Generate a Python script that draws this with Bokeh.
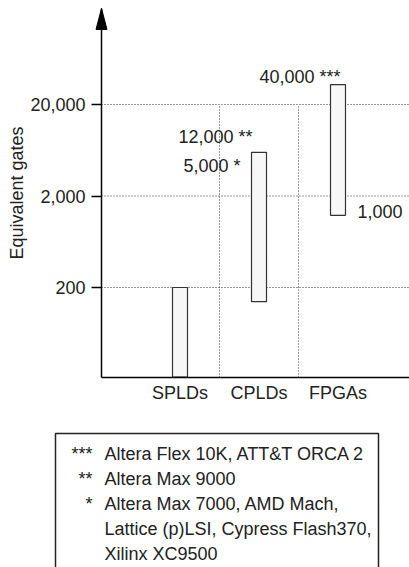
import math
from bokeh.plotting import figure
from bokeh.models import Range1d, FixedTicker, NumeralTickFormatter, ColumnDataSource
from bokeh.layouts import column
from bokeh.embed import file_html
from bokeh.resources import INLINE
from bokeh.core.properties import value

# ---------------- data ----------------
categories = ["SPLDs", "CPLDs", "FPGAs"]
gates_low = [21, 140, 1230]
gates_high = [200, 6000, 33000]
y_ticks = [200, 2000, 20000]

annot_text = ["40,000 ***", "12,000 **", "5,000 *", "1,000"]
annot_bar = [2, 1, 1, 2]            # index of the bar each note belongs to
annot_end = ["high", "high", "high", "low"]

legend_marks = ["***", "**", "*"]
legend_notes = [
    "Altera Flex 10K, ATT&T ORCA 2",
    "Altera Max 9000",
    "Altera Max 7000, AMD Mach,\nLattice (p)LSI, Cypress Flash370,\nXilinx XC9500",
]

# ---------------- layout / style ----------------
FONT = "Liberation Sans"
FS = "18px"
TXT = "#222222"
W, H1, H2 = 409, 418, 149
PX_X = 79.0          # px per category
CAT1_PX = 179.5      # px position of first category
AX_X_PX = 101.0      # y-axis position (px)
AX_Y_PX = 377.0      # x-axis position (px)
DEC_PX = 91.5        # px per decade
REF_PX = 104.0       # px position of 20000
TIP_PX, BASE_PX = 8.0, 29.0
BAR_W = 15.0 / PX_X

def ydata(py):
    return 10 ** (math.log10(20000) + (REF_PX - py) / DEC_PX)

x_start = 1 - CAT1_PX / PX_X
x_end = x_start + W / PX_X
ax_x = x_start + AX_X_PX / PX_X
ax_y = ydata(AX_Y_PX)
y_start, y_end = ydata(H1), ydata(0)

p = figure(width=W, height=H1, x_range=Range1d(x_start, x_end),
           y_range=Range1d(y_start, y_end), y_axis_type="log",
           output_backend="svg", toolbar_location=None, min_border=0)
p.outline_line_color = None
p.grid.visible = False
p.background_fill_color = "white"

# y axis
yax = p.yaxis[0]
yax.fixed_location = ax_x
yax.bounds = (ax_y, ydata(TIP_PX))
yax.ticker = FixedTicker(ticks=y_ticks, minor_ticks=[])
yax.formatter = NumeralTickFormatter(format="0,0")
yax.major_tick_out = 10
yax.major_tick_in = 0
yax.minor_tick_out = 0
yax.minor_tick_in = 0
yax.major_label_standoff = 6
yax.axis_label = "Equivalent gates"
yax.axis_label_standoff = 0
yax.axis_line_width = 1.5
yax.major_tick_line_width = 1.3

# x axis
xax = p.xaxis[0]
xax.fixed_location = ax_y
xax.bounds = (ax_x, x_end)
xax.ticker = FixedTicker(ticks=[i + 1 for i in range(len(categories))], minor_ticks=[])
xax.major_label_overrides = {i + 1: c for i, c in enumerate(categories)}
xax.major_tick_out = 0
xax.major_tick_in = 0
xax.minor_tick_out = 0
xax.minor_tick_in = 0
xax.major_label_standoff = 5
xax.axis_line_width = 1.5

for ax in [xax, yax]:
    ax.axis_line_color = "black"
    ax.major_tick_line_color = "black"
    ax.major_label_text_font = FONT
    ax.major_label_text_font_size = FS
    ax.major_label_text_color = TXT
    ax.axis_label_text_font = FONT
    ax.axis_label_text_font_size = FS
    ax.axis_label_text_font_style = "normal"
    ax.axis_label_text_color = TXT

# dotted grid lines
p.segment(x0=ax_x, x1=x_end, y0=y_ticks, y1=y_ticks,
          line_color="#333333", line_width=1, line_dash="1 2")
bounds_x = [i + 1.5 for i in range(len(categories) - 1)]
p.segment(x0=bounds_x, x1=bounds_x, y0=ax_y, y1=y_ticks[-1],
          line_color="#333333", line_width=1, line_dash="1 2")

# bars
src = ColumnDataSource(dict(x=[i + 1 for i in range(len(categories))],
                            low=gates_low, high=gates_high))
p.vbar(x="x", width=BAR_W, bottom="low", top="high", source=src,
       fill_color="#f7f7f7", line_color="#333333", line_width=1.2)

# arrow head on y axis
p.patch(x=[ax_x - 5.5 / PX_X, ax_x, ax_x + 5.5 / PX_X],
        y=[ydata(BASE_PX), ydata(TIP_PX), ydata(BASE_PX)], color="black")

# notes next to bars
ann_style = [  # align, baseline, side, x_off, y_off
    ("right", "alphabetic", +1, -5, -8),
    ("right", "middle", -1, 1, -15),
    ("right", "middle", -1, -11, 14),
    ("left", "middle", +1, 12, -4),
]
for t, b, e, st in zip(annot_text, annot_bar, annot_end, ann_style):
    al, bl, side, xo, yo = st
    yv = gates_high[b] if e == "high" else gates_low[b]
    p.text(x=[b + 1 + side * BAR_W / 2], y=[yv], text=[t],
           text_align=al, text_baseline=bl, x_offset=xo, y_offset=yo,
           text_font=value(FONT), text_font_size=FS, text_color=TXT)

# ---------------- legend box ----------------
q = figure(width=W, height=H2, x_range=Range1d(0, W), y_range=Range1d(H2, 0),
           output_backend="svg", toolbar_location=None, min_border=0)
q.axis.visible = False
q.grid.visible = False
q.outline_line_color = None
q.quad(left=[55], right=[378], top=[15], bottom=[H2 + 20],
       fill_color=None, line_color="#222222", line_width=1.5)

LINE = 25
y0 = 35
mark_y, line_y, lines = [], [], []
k = 0
for m, n in zip(legend_marks, legend_notes):
    mark_y.append(y0 + k * LINE)
    for ln in n.split("\n"):
        lines.append(ln)
        line_y.append(y0 + k * LINE)
        k += 1
q.text(x=[92] * len(legend_marks), y=mark_y, text=legend_marks,
       text_align="right", text_baseline="middle",
       text_font=value(FONT), text_font_size=FS, text_color=TXT)
q.text(x=[104] * len(lines), y=line_y, text=lines,
       text_align="left", text_baseline="middle",
       text_font=value(FONT), text_font_size=FS, text_color=TXT)

layout = column(p, q, spacing=0)
open("out.html", "w").write(file_html(layout, INLINE))
